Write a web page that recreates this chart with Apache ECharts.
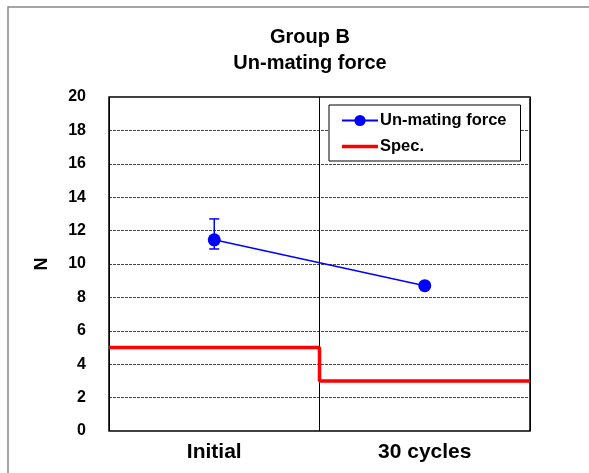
<!DOCTYPE html>
<html><head><meta charset="utf-8">
<style>html,body{margin:0;padding:0;background:#fff}#c{width:589px;height:473px}</style>
<script src="https://cdn.jsdelivr.net/npm/echarts@6/dist/echarts.min.js"></script>
</head><body><div id="c"></div>
<script>
const categories = ['Initial', '30 cycles'];
const forceValues = [11.45, 8.7];
const forceErrLow = [10.9, 8.7];
const forceErrHigh = [12.7, 8.7];
const specX = [0, 1, 1, 2];
const specY = [5, 5, 3, 3];
const yTicks = [0, 20, 2];

const FONT = "'Liberation Sans', Arial, sans-serif";
const chart = echarts.init(document.getElementById('c'), null, {renderer: 'canvas'});
chart.setOption({
  animation: false,
  backgroundColor: '#fff',
  graphic: [{type: 'rect', shape: {x: 8, y: 7, width: 700, height: 600}, style: {fill: 'none', stroke: '#888', lineWidth: 1.5}, silent: true, z: -10}],
  title: {
    text: 'Group B\nUn-mating force', left: 305, top: 19, textAlign: 'center',
    textStyle: {fontFamily: FONT, fontWeight: 'bold', fontSize: 20, lineHeight: 26, color: '#000'}
  },
  legend: {
    orient: 'vertical', left: 329, top: 105, itemWidth: 36, itemHeight: 14, itemGap: 9,
    padding: [7, 14, 6, 12], borderColor: '#000', borderWidth: 1, backgroundColor: '#fff',
    textStyle: {fontFamily: FONT, fontWeight: 'bold', fontSize: 16.5, color: '#000', padding: [0, 0, 0, -3]},
    data: ['Un-mating force', {name: 'Spec.', icon: 'path://M0,0H36V3.5H0Z'}]
  },
  grid: {left: 109, top: 97, width: 421, height: 334, show: true, borderColor: '#000', borderWidth: 1.5, containLabel: false},
  xAxis: [{
    type: 'category', data: categories, boundaryGap: true,
    axisLine: {show: false}, axisTick: {show: false}, splitLine: {show: false},
    axisLabel: {fontFamily: FONT, fontWeight: 'bold', fontSize: 21, color: '#000', margin: 11}
  }, {
    type: 'value', min: 0, max: 2, interval: 1, show: true,
    position: 'bottom',
    axisLine: {show: false}, axisTick: {show: false}, axisLabel: {show: false},
    splitLine: {show: true, lineStyle: {color: '#000', width: 1, type: 'solid'}}
  }],
  yAxis: {
    type: 'value', min: yTicks[0], max: yTicks[1], interval: yTicks[2],
    name: 'N', nameLocation: 'middle', nameGap: 58, nameRotate: 90, nameMoveOverlap: false,
    nameTextStyle: {fontFamily: FONT, fontWeight: 'bold', fontSize: 18, color: '#000'},
    axisLine: {show: false}, axisTick: {show: false},
    axisLabel: {fontFamily: FONT, fontWeight: 'bold', fontSize: 16, color: '#000', margin: 23},
    splitLine: {show: true, lineStyle: {color: '#444', width: 1, type: [3, 1]}}
  },
  series: [{
    name: 'Spec.', type: 'line', xAxisIndex: 1, symbol: 'none', z: 3,
    lineStyle: {color: '#ff0000', width: 3.5}, itemStyle: {color: '#ff0000'},
    data: specX.map((x, i) => [x, specY[i]])
  }, {
    name: 'Un-mating force', type: 'line', xAxisIndex: 0, symbol: 'circle', symbolSize: 13, z: 5,
    lineStyle: {color: '#0000ff', width: 1.5}, itemStyle: {color: '#0000ff'},
    data: forceValues
  }, {
    name: 'err', type: 'custom', xAxisIndex: 0, z: 4,
    data: categories.map((c, i) => [i, forceErrLow[i], forceErrHigh[i]]),
    renderItem: function (params, api) {
      const lo = api.coord([api.value(0), api.value(1)]);
      const hi = api.coord([api.value(0), api.value(2)]);
      if (Math.abs(hi[1] - lo[1]) < 1) return null;
      const w = 5;
      const st = {stroke: '#0000ff', lineWidth: 1.5};
      return {type: 'group', children: [
        {type: 'line', shape: {x1: hi[0], y1: lo[1], x2: hi[0], y2: hi[1]}, style: st},
        {type: 'line', shape: {x1: hi[0] - w, y1: hi[1], x2: hi[0] + w, y2: hi[1]}, style: st},
        {type: 'line', shape: {x1: lo[0] - w, y1: lo[1], x2: lo[0] + w, y2: lo[1]}, style: st}
      ]};
    }
  }]
});
</script></body></html>
